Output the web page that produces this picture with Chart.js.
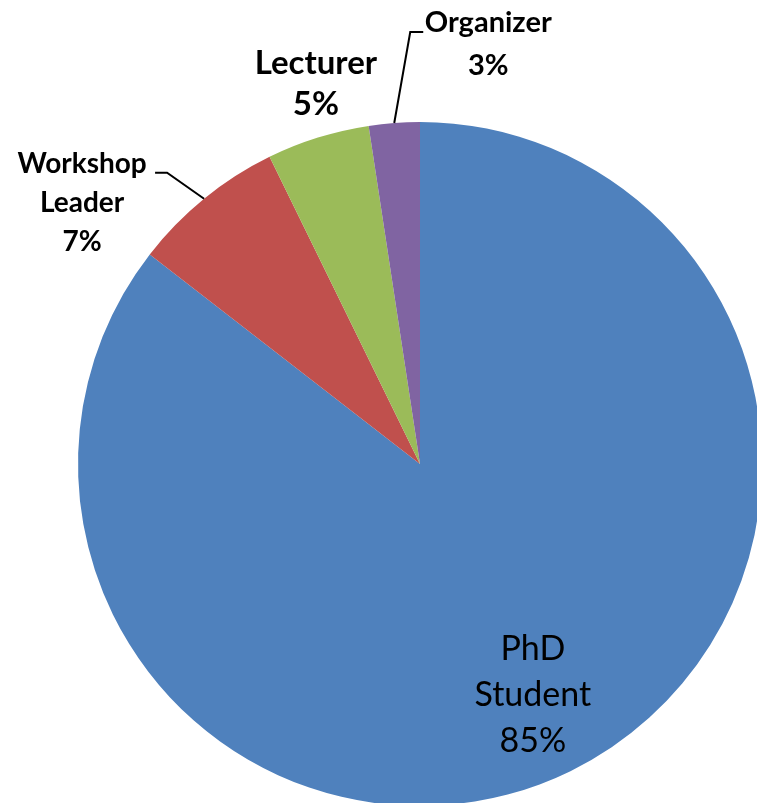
<!DOCTYPE html>
<html>
<head>
<meta charset="utf-8">
<script src="https://cdn.jsdelivr.net/npm/chart.js@4.4.1/dist/chart.umd.min.js"></script>
<style>
  html, body { margin: 0; padding: 0; background: #fff; overflow: hidden; width: 757px; height: 803px; }
  #wrap { position: absolute; left: 0; top: 0; }
</style>
</head>
<body>
<div id="wrap"><canvas id="pie" width="840" height="928"></canvas></div>
<script>
// Daten
const categories = ['PhD Student', 'Workshop Leader', 'Lecturer', 'Organizer'];
const values = [85.5, 7.25, 4.85, 2.4];
const pctLabels = ['85%', '7%', '5%', '3%'];
const labelLines = [['PhD', 'Student'], ['Workshop', 'Leader'], ['Lecturer'], ['Organizer']];
const colors = ['#4F81BD', '#C0504D', '#9BBB59', '#8064A2'];

// Beschriftung je Segment: Abstand vom Bogenmittelpunkt, Schrift, optional Führungslinie
const labelStyle = [
    { rf: 0.75, dx: 0, dy: 1, font: '400 34px Lato', lh: 46, leader: null },
    { rf: 1, dx: -122, dy: 4, font: '700 28px Lato', lh: 39, leader: [[-37, -26], [-49, -26]] },
    { rf: 1, dx: -2, dy: -54, font: '700 33px Lato', lh: 41, leader: null },
    { rf: 1, dx: 94, dy: -79, font: '700 29px Lato', lh: 43, leader: [[16, -91], [29, -91]] }
];

const pieLabels = {
    id: 'pieLabels',
    afterDatasetsDraw(chart) {
        const ctx = chart.ctx;
        const arcs = chart.getDatasetMeta(0).data;
        arcs.forEach((arc, i) => {
            const st = labelStyle[i];
            const mid = (arc.startAngle + arc.endAngle) / 2;
            const ax = arc.x + Math.cos(mid) * arc.outerRadius * st.rf;
            const ay = arc.y + Math.sin(mid) * arc.outerRadius * st.rf;

            ctx.save();
            if (st.leader) {
                ctx.strokeStyle = '#000';
                ctx.lineWidth = 2;
                ctx.beginPath();
                ctx.moveTo(ax, ay);
                st.leader.forEach(p => ctx.lineTo(ax + p[0], ay + p[1]));
                ctx.stroke();
            }
            const lines = labelLines[i].concat([pctLabels[i]]);
            ctx.fillStyle = '#000';
            ctx.font = st.font;
            ctx.textAlign = 'center';
            ctx.textBaseline = 'middle';
            const cx = ax + st.dx;
            const cy = ay + st.dy;
            lines.forEach((t, k) => {
                ctx.fillText(t, cx, cy + (k - (lines.length - 1) / 2) * st.lh);
            });
            ctx.restore();
        });
    }
};

new Chart(document.getElementById('pie'), {
    type: 'pie',
    data: {
        labels: categories,
        datasets: [{
            data: values,
            backgroundColor: colors,
            borderWidth: 0
        }]
    },
    options: {
        responsive: false,
        animation: false,
        devicePixelRatio: 1,
        layout: { padding: { left: 78, right: 78, top: 122, bottom: 122 } },
        plugins: {
            legend: { display: false },
            tooltip: { enabled: false }
        }
    },
    plugins: [pieLabels]
});
</script>
</body>
</html>
